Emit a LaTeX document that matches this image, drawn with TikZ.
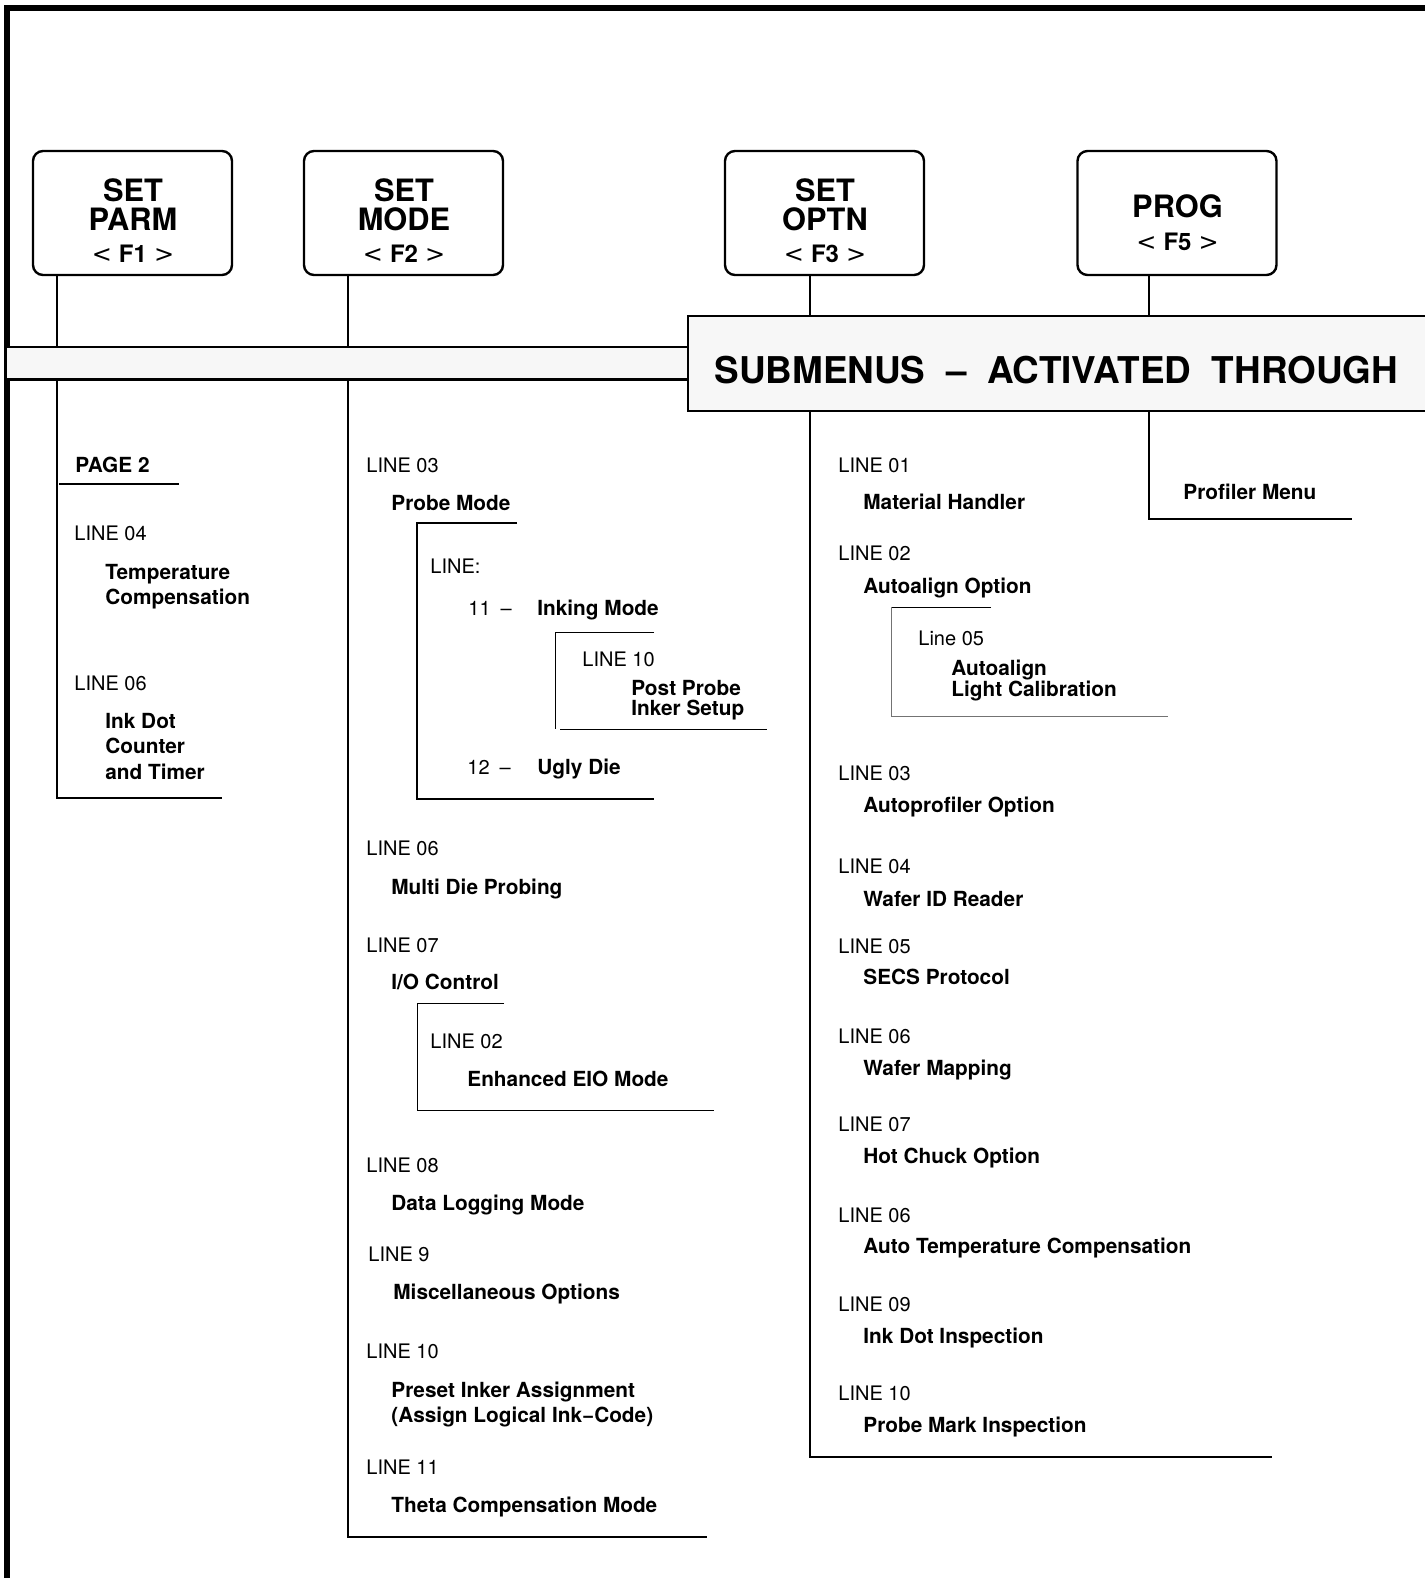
\documentclass[tikz,border=0pt]{standalone}
\usepackage{fontspec}
\setmainfont{TeX Gyre Heros}
\newfontfamily\symfont{DejaVu Sans}
\colorlet{barfill}{black!3}
\newcommand{\keyl}{{\symfont\mdseries<}\hspace{3.5pt}}
\newcommand{\keyr}{\hspace{3.5pt}{\symfont\mdseries>}}
\tikzset{
  fkey/.style={draw, line width=1.2pt, rounded corners=5pt, minimum width=99.5pt, minimum height=62pt, inner sep=0pt},
  keytext/.style={align=center, inner sep=0pt, font=\bfseries\fontsize{15.4}{14.6}\selectfont},
  lineno/.style={anchor=base west, inner sep=0pt, font=\fontsize{10}{12}\selectfont},
  entry/.style={anchor=base west, inner sep=0pt, font=\bfseries\fontsize{10.4}{12}\selectfont},
  stem/.style={line width=1.1pt},
  subline/.style={line width=0.5pt},
}

\begin{document}
\begin{tikzpicture}[x=0.5pt,y=-0.5pt]
            \useasboundingbox (0,0) rectangle (1424,1578);
            \draw [line width=2.6pt] (7,1600) -- (7,8) -- (1450,8);

            % function keys
            \node[fkey] (f1) at (132.5,213) {};
            \node[fkey] (f2) at (403.5,213) {};
            \node[fkey] (f3) at (824.5,213) {};
            \node[fkey] (f5) at (1177,213) {};
            \node[keytext] (f1t) at (133,220.5) {SET\\PARM\\[1pt]{\fontsize{12}{12}\selectfont\keyl F1\keyr}};
            \node[keytext] (f2t) at (404,220.5) {SET\\MODE\\[1pt]{\fontsize{12}{12}\selectfont\keyl F2\keyr}};
            \node[keytext] (f3t) at (825,220.5) {SET\\OPTN\\[1pt]{\fontsize{12}{12}\selectfont\keyl F3\keyr}};
            \node[keytext] (f5t) at (1177.5,223) {PROG\\[1.8pt]{\fontsize{12}{12}\selectfont\keyl F5\keyr}};

            % bar and banner
            \node[fill=barfill, inner sep=0pt, minimum width=340.5pt, minimum height=16pt] (bar) at (347.5,363) {};
            \draw[stem] (bar.north west) -- (bar.north east) (bar.south west) -- (bar.south east);
            \node[draw, fill=barfill, line width=1.2pt, inner sep=0pt, minimum width=380pt, minimum height=47.5pt] (banner) at (1068,363.5) {};
            \node[anchor=base west, inner sep=0pt, font=\bfseries\fontsize{18.45}{20}\selectfont] (subm) at (714,383)
                {SUBMENUS~~–~~ACTIVATED~~THROUGH};

            % stems
            \coordinate (s1) at (57,0);   \coordinate (e1) at (222,798);
            \coordinate (s2) at (348,0);  \coordinate (e2) at (707,1537);
            \coordinate (s3) at (810,0);  \coordinate (e3) at (1272,1457);
            \coordinate (s5) at (1149,0); \coordinate (e5) at (1352,519);
            \draw[stem] (f1.south -| s1) -- (bar.north -| s1);
            \draw[stem] (bar.south -| s1) |- (e1);
            \draw[stem] (f2.south -| s2) -- (bar.north -| s2);
            \draw[stem] (bar.south -| s2) |- (e2);
            \draw[stem] (f3.south -| s3) -- (banner.north -| s3);
            \draw[stem] (banner.south -| s3) |- (e3);
            \draw[stem] (f5.south -| s5) -- (banner.north -| s5);
            \draw[stem] (banner.south -| s5) |- (e5);

            % brackets
            \draw[line width=1pt] (59,484) -- (179,484);
            \draw[stem] (517,523) -- (417,523) -- (417,799) -- (654,799);
            \draw[subline] (654,632) -- (555,632) -- (555,729);
            \draw[subline] (560,729) -- (767,729);
            \draw[subline] (504,1003) -- (417,1003) -- (417,1110) -- (714,1110);
            \draw[subline] (991,607) -- (891,607);
            \draw[subline, black!55] (891,607) -- (891,716) -- (1168,716);

            % line numbers
            \foreach \x/\y/\t [count=\i] in {74/540/LINE 04, 74/690/LINE 06,
                366/472/LINE 03, 430/573/LINE:, 468/615/11\enspace–, 582/666/LINE 10, 467/774/12\enspace–,
                366/855/LINE 06, 366/952/LINE 07, 430/1048/LINE 02, 366/1172/LINE 08,
                368/1261/LINE 9, 366/1358/LINE 10, 366/1474/LINE 11,
                838/472/LINE 01, 838/560/LINE 02, 918/645/Line 05, 838/780/LINE 03,
                838/873/LINE 04, 838/953/LINE 05, 838/1043/LINE 06, 838/1131/LINE 07,
                838/1222/LINE 06, 838/1311/LINE 09, 838/1400/LINE 10}
                \node[lineno] (p\i) at (\x,\y) {\t};

            % menu entries
            \foreach \x/\y/\t [count=\i] in {75/472/PAGE 2, 105/579/Temperature, 105/604/Compensation,
                105/728/Ink Dot, 105/753/Counter, 105/779/and Timer,
                391/510/Probe Mode, 537/615/Inking Mode, 631/695/Post Probe, 631/715/Inker Setup,
                537/774/Ugly Die, 391/894/Multi Die Probing, 391/989/{I/O Control},
                467/1086/Enhanced EIO Mode, 391/1210/Data Logging Mode, 393/1299/Miscellaneous Options,
                391/1397/Preset Inker Assignment, 391/1422/{(Assign Logical Ink−Code)},
                391/1512/Theta Compensation Mode,
                863/509/Material Handler, 863/593/Autoalign Option, 951/675/Autoalign,
                951/696/Light Calibration, 863/812/Autoprofiler Option, 863/906/Wafer ID Reader,
                863/984/SECS Protocol, 863/1075/Wafer Mapping, 863/1163/Hot Chuck Option,
                863/1253/Auto Temperature Compensation, 863/1343/Ink Dot Inspection,
                863/1432/Probe Mark Inspection, 1183/499/Profiler Menu}
                \node[entry] (b\i) at (\x,\y) {\t};
\end{tikzpicture}
\end{document}
